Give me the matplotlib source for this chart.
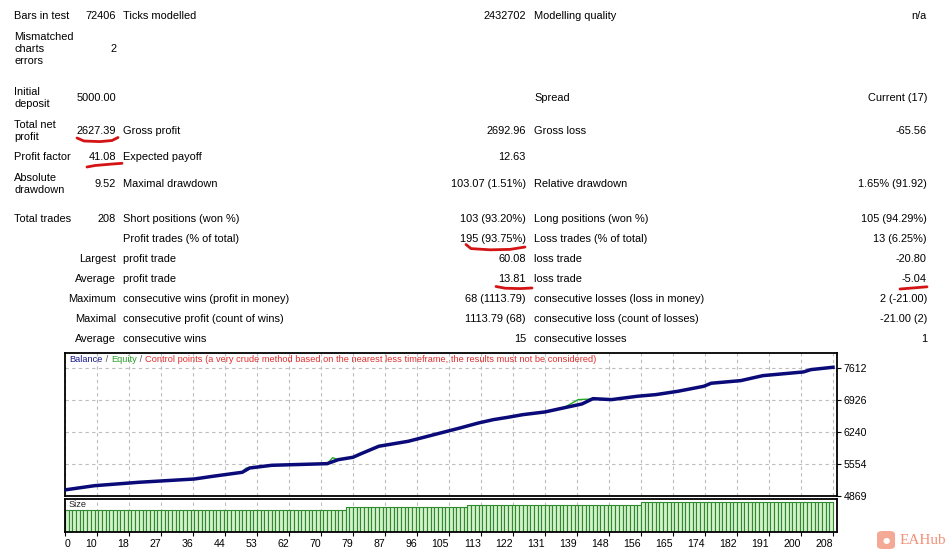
import matplotlib
matplotlib.use("Agg")
import matplotlib.pyplot as plt
import numpy as np
from matplotlib.patches import FancyBboxPatch

# ---------------- data ----------------
# report rows: (y_px, col1 label, col1 value, col2 label, col2 value, col3 label, col3 value)
row_y = [16, 49, 98, 131, 157, 184, 219, 239, 259, 279, 299, 319, 339]
col1_label = ["Bars in test", "Mismatched\ncharts\nerrors", "Initial\ndeposit", "Total net\nprofit",
              "Profit factor", "Absolute\ndrawdown", "Total trades", "", "Largest", "Average",
              "Maximum", "Maximal", "Average"]
col1_value = ["72406", "2", "5000.00", "2627.39", "41.08", "9.52", "208", "", "", "", "", "", ""]
col2_label = ["Ticks modelled", "", "", "Gross profit", "Expected payoff", "Maximal drawdown",
              "Short positions (won %)", "Profit trades (% of total)", "profit trade", "profit trade",
              "consecutive wins (profit in money)", "consecutive profit (count of wins)", "consecutive wins"]
col2_value = ["2432702", "", "", "2692.96", "12.63", "103.07 (1.51%)", "103 (93.20%)", "195 (93.75%)",
              "60.08", "13.81", "68 (1113.79)", "1113.79 (68)", "15"]
col3_label = ["Modelling quality", "", "Spread", "Gross loss", "", "Relative drawdown",
              "Long positions (won %)", "Loss trades (% of total)", "loss trade", "loss trade",
              "consecutive losses (loss in money)", "consecutive loss (count of losses)", "consecutive losses"]
col3_value = ["n/a", "", "Current (17)", "-65.56", "", "1.65% (91.92)", "105 (94.29%)", "13 (6.25%)",
              "-20.80", "-5.04", "2 (-21.00)", "-21.00 (2)", "1"]

# balance curve (trade number, balance)
balance_trade = [0, 8, 20, 35, 40, 48, 50, 56, 71, 74, 78, 80, 85, 93, 107, 112, 116, 120, 124,
                 130, 135, 140, 143, 148, 155, 160, 166, 173, 175, 183, 189, 200, 202, 208]
balance_value = [5000, 5090, 5163, 5233, 5291, 5377, 5469, 5527, 5562, 5647, 5699, 5769, 5935, 6042,
                 6327, 6434, 6505, 6556, 6612, 6670, 6756, 6841, 6955, 6934, 7006, 7041, 7113, 7220,
                 7285, 7341, 7448, 7527, 7577, 7627.39]
# equity curve (mostly coincident with balance, small excursions before closes)
equity_trade = [0, 8, 20, 35, 40, 48, 49, 50, 56, 71, 72.5, 74, 78, 80, 85, 93, 107, 112, 116, 120,
                124, 125.5, 130, 135, 139, 142, 143, 148, 155, 160, 166, 173, 175, 183, 189, 200, 202, 208]
equity_value = [5000, 5090, 5163, 5233, 5291, 5377, 5465, 5469, 5527, 5562, 5690, 5647, 5699, 5769, 5947,
                6042, 6327, 6434, 6505, 6556, 6625, 6636, 6670, 6756, 6935, 6945, 6955, 6934, 7006, 7041,
                7113, 7220, 7285, 7341, 7448, 7527, 7577, 7627.39]

# lot size per trade, as runs (size, number of trades)
size_levels = [0.08, 0.09, 0.10, 0.11]
size_counts = [76, 33, 47, 52]

y_ticks = [4869, 5554, 6240, 6926, 7612]
x_tick_labels = ["0", "10", "18", "27", "36", "44", "53", "62", "70", "79", "87", "96", "105", "113",
                 "122", "131", "139", "148", "156", "165", "174", "182", "191", "200", "208"]
n_trades = 208

# ---------------- figure ----------------
W, H = 947, 553
fig = plt.figure(figsize=(W / 100, H / 100), dpi=100)
fig.patch.set_facecolor("white")
FONT = ["Liberation Sans", "DejaVu Sans"]
FS = 7.9


def T(x, y, s, ha="left", color="black", fs=FS, **kw):
    if s:
        fig.text(x / W, 1 - y / H, s, ha=ha, va="center", fontsize=fs, family=FONT,
                 color=color, linespacing=1.2, **kw)


c1_right = [lab in ("Largest", "Average", "Maximum", "Maximal") for lab in col1_label]
for y, l1, v1, l2, v2, l3, v3, r in zip(row_y, col1_label, col1_value, col2_label, col2_value,
                                        col3_label, col3_value, c1_right):
    if r:
        T(116, y, l1, ha="right")
    else:
        T(14, y, l1)
    T(116, y, v1, ha="right")
    T(123, y, l2)
    T(526, y, v2, ha="right")
    T(534, y, l3)
    T(927, y, v3, ha="right")

# hand-drawn red underlines
underlines = [
    [(77, 138), (84, 141), (100, 141.6), (112, 140.5), (118, 137.5)],
    [(87, 167), (95, 165.5), (110, 164.2), (122, 163.3)],
    [(466, 244.5), (471, 248.6), (490, 249.8), (510, 249.4), (525, 247)],
    [(496, 286.5), (505, 288.2), (520, 288.6), (532, 288)],
    [(900, 289), (910, 288.2), (927, 286.8)],
]
for pts in underlines:
    xs = [p[0] / W for p in pts]
    ys = [1 - p[1] / H for p in pts]
    fig.add_artist(plt.Line2D(xs, ys, color="#d41414", lw=2.0, solid_capstyle="round",
                              transform=fig.transFigure))

# ---------------- main chart ----------------
L, R = 65, 837
ax = fig.add_axes([L / W, 1 - 496 / H, (R - L) / W, (496 - 353) / H])
ax2 = fig.add_axes([L / W, 1 - 532 / H, (R - L) / W, (532 - 499) / H])

xmax = n_trades * (R - L) / 768.0
tick_pos = np.linspace(0, n_trades, len(x_tick_labels))

ax.set_xlim(0, xmax)
ax.set_ylim(4869, 7933)
ax.set_xticks(tick_pos)
ax.set_xticklabels([])
ax.tick_params(axis="x", length=0)
ax.set_yticks(y_ticks)
ax.yaxis.tick_right()
ax.set_yticklabels([str(v) for v in y_ticks], fontsize=7.6, family=FONT)
ax.tick_params(axis="y", direction="out", length=3, width=0.8, pad=2)
ax.grid(True, color="#bdbdbd", linestyle=(0, (3, 3)), linewidth=0.8)
ax.set_axisbelow(True)
for s in ax.spines.values():
    s.set_linewidth(1.3)

ax.plot(equity_trade, equity_value, color="#22aa22", lw=1.0, zorder=3)
ax.plot(balance_trade, balance_value, color="#0a0a78", lw=2.5, zorder=4, solid_joinstyle="round")

# legend-like title
t1 = ax.text(0.006, 0.955, "Balance", transform=ax.transAxes, fontsize=6.7, family=FONT,
             color="#1a1a8a", va="center", ha="left")
t2 = ax.annotate(" / ", xy=(1, 0), xycoords=t1, va="bottom", fontsize=6.7, family=FONT, color="#555555")
t3 = ax.annotate("Equity", xy=(1, 0), xycoords=t2, va="bottom", fontsize=6.7, family=FONT, color="#2aa02a")
t4 = ax.annotate(" / ", xy=(1, 0), xycoords=t3, va="bottom", fontsize=6.7, family=FONT, color="#555555")
t5 = ax.annotate("Control points (a very crude method based on the nearest less timeframe, "
                 "the results must not be considered)", xy=(1, 0), xycoords=t4, va="bottom",
                 fontsize=6.7, family=FONT, color="#e03030")

# ---------------- size panel ----------------
sizes = []
for lvl, cnt in zip(size_levels, size_counts):
    sizes += [lvl] * cnt
ax2.bar(np.arange(n_trades) + 0.5, sizes, width=1.0, color="#d3f1cb", edgecolor="#2f8a2f",
        linewidth=0.8, zorder=2)
ax2.set_xlim(0, xmax)
ax2.set_ylim(0, 0.12)
ax2.set_yticks([])
ax2.set_xticks(tick_pos)
ax2.set_xticklabels(x_tick_labels, fontsize=7.6, family=FONT)
for i, lab in enumerate(ax2.get_xticklabels()):
    lab.set_ha("left" if i == 0 else "right")
ax2.tick_params(axis="x", direction="out", length=3, width=0.8, pad=2)
ax2.grid(True, axis="x", color="#bdbdbd", linestyle=(0, (3, 3)), linewidth=0.8, zorder=3)
for s in ax2.spines.values():
    s.set_linewidth(1.3)
ax2.text(0.004, 0.82, "Size", transform=ax2.transAxes, fontsize=6.7, family=FONT, va="center",
         color="#222222")

# ---------------- watermark ----------------
icon = FancyBboxPatch((877 / W, 1 - 549 / H), 18 / W, 18 / H,
                      boxstyle="round,pad=0,rounding_size=0.006", transform=fig.transFigure,
                      facecolor="#f39a84", edgecolor="none", alpha=0.85)
fig.add_artist(icon)
fig.text(886 / W, 1 - 540.5 / H, "\u25cf", ha="center", va="center", fontsize=6, color="white")
fig.text(900 / W, 1 - 540 / H, "EAHub", ha="left", va="center", fontsize=11,
         family=["Liberation Serif", "DejaVu Serif"], color="#f0866a", alpha=0.9)

fig.savefig("out.png", dpi=100)
